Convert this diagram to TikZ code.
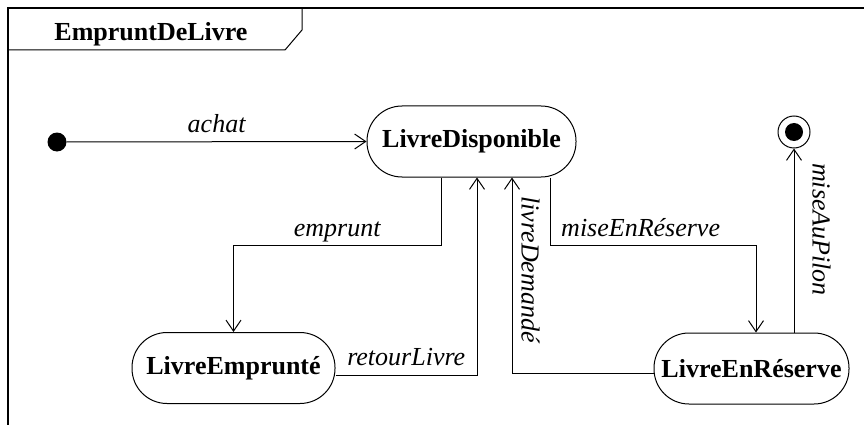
\documentclass[tikz,border=0pt]{standalone}
\usepackage{fontspec}
\setmainfont{Liberation Serif}
\usepackage{tikz}
\usetikzlibrary{positioning, arrows.meta, calc}

\tikzset{
  stEtat/.style={draw, line width=1pt, rounded corners=35pt, minimum height=71pt,
                 font=\fontsize{26}{30}\selectfont\bfseries, inner sep=0pt},
  stTrans/.style={line width=1pt, -{Straight Barb[length=11pt,width=15pt,line width=1pt]}},
  stLabel/.style={font=\fontsize{26}{30}\selectfont\itshape, text depth=6pt, inner sep=3pt},
  stFrame/.style={line width=1.5pt},
}

\begin{document}
\begin{tikzpicture}[x=1pt, y=-1pt]
  \useasboundingbox (0,0) rectangle (864,425);
  % frame and tab
  \draw[stFrame] (864,8) -- (8,8) -- (8,425);
  \draw[line width=1pt] (302,8) -- (302,30) -- (285,50) -- (8,50);
  \node[font=\fontsize{26}{30}\selectfont\bfseries, anchor=base] (titre) at (151,41) {EmpruntDeLivre};
  % states
  \node[stEtat, minimum width=209pt] (dispo) at (471.5,141.5) {LivreDisponible};
  \node[stEtat, minimum width=203pt] (emprunte) at (233.5,368) {LivreEmprunté};
  \node[stEtat, minimum width=195pt] (reserve) at (751.5,368.5) {LivreEnRéserve};
  \node[circle, fill, inner sep=0pt, minimum size=19pt] (init) at (57,142) {};
  \node[circle, draw, line width=1pt, inner sep=0pt, minimum size=32pt] (fin) at (794,132) {};
  \node[circle, fill, inner sep=0pt, minimum size=18pt] (finPt) at (fin) {};
  % transitions
  \draw[stTrans] (init) -- node[stLabel, above] {achat} (dispo.west);
  \draw[stTrans] ([xshift=-30.5pt]dispo.south) -- ++(0,68)
    -| node[stLabel, above, pos=0.25] {emprunt} (emprunte.north);
  \draw[stTrans] ([yshift=-7pt]emprunte.east)
    -| node[stLabel, above, pos=0.25] {retourLivre} ([xshift=5.5pt]dispo.south);
  \draw[stTrans] ([xshift=78.5pt]dispo.south) -- ++(0,68)
    -| node[stLabel, above, pos=0.22] {miseEnRéserve} ([xshift=4.5pt]reserve.north);
  \draw[stTrans] ([yshift=-5pt]reserve.west)
    -| node[stLabel, rotate=-90, anchor=south, pos=0.765] {livreDemandé} ([xshift=40.5pt]dispo.south);
  \draw[stTrans] (reserve.north -| fin.south)
    -- node[stLabel, rotate=-90, anchor=south, inner ysep=12pt, pos=0.56] {miseAuPilon} (fin.south);
\end{tikzpicture}
\end{document}
